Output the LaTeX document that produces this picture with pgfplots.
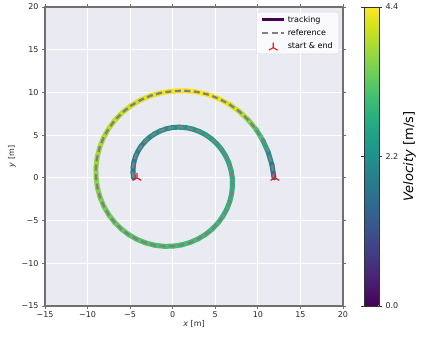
\documentclass[border=0pt]{standalone}
\usepackage{pgfplots}
\pgfplotsset{compat=1.18}
\usetikzlibrary{calc}
\usepackage{fontspec}
\setmainfont{DejaVu Sans}
\definecolor{bgc}{HTML}{EAEAF2}
\definecolor{framec}{HTML}{707070}
\definecolor{vpurple}{HTML}{440154}
\definecolor{refgray}{HTML}{808080}
\definecolor{mkred}{HTML}{E8141E}

\pgfdeclareplotmark{triup}{%
  \pgfpathmoveto{\pgfqpoint{0pt}{0pt}}%
  \pgfpathlineto{\pgfqpoint{0pt}{\pgfplotmarksize}}%
  \pgfpathmoveto{\pgfqpoint{0pt}{0pt}}%
  \pgfpathlineto{\pgfqpoint{-0.866\pgfplotmarksize}{-0.5\pgfplotmarksize}}%
  \pgfpathmoveto{\pgfqpoint{0pt}{0pt}}%
  \pgfpathlineto{\pgfqpoint{0.866\pgfplotmarksize}{-0.5\pgfplotmarksize}}%
  \pgfusepathqstroke}

\pgfplotsset{
  longline/.style={legend image code/.code={\draw[##1] (0pt,0pt) -- (22pt,0pt);}},
  midmark/.style={legend image code/.code={\draw[##1] plot coordinates {(11pt,-1.5pt)};}},
}

% spiral path, x y and speed
\pgfplotstableread{
x y v
-4.600 0.000 1.60
-4.666 0.629 1.675
-4.653 1.247 1.75
-4.545 1.898 1.825
-4.359 2.517 1.90
-4.070 3.141 1.95
-3.712 3.712 2.00
-3.250 4.259 2.05
-2.733 4.734 2.10
-2.120 5.156 2.125
-1.471 5.490 2.15
-0.742 5.744 2.175
0.000 5.900 2.20
0.794 5.939 2.25
1.574 5.876 2.30
2.374 5.700 2.35
3.133 5.427 2.40
3.880 5.037 2.45
4.561 4.561 2.50
5.197 3.973 2.55
5.745 3.317 2.60
6.218 2.562 2.65
6.584 1.764 2.70
6.850 0.890 2.75
7.000 0.000 2.80
7.021 -0.935 2.825
6.922 -1.855 2.85
6.694 -2.785 2.875
6.351 -3.667 2.90
5.877 -4.524 2.925
5.303 -5.303 2.95
4.607 -6.022 2.975
3.833 -6.639 3.00
2.955 -7.164 3.025
2.027 -7.566 3.05
1.022 -7.850 3.075
0.000 -8.000 3.10
-1.066 -8.012 3.125
-2.114 -7.888 3.15
-3.168 -7.617 3.175
-4.167 -7.217 3.20
-5.132 -6.670 3.25
-6.010 -6.010 3.30
-6.816 -5.216 3.35
-7.506 -4.333 3.40
-8.088 -3.338 3.475
-8.532 -2.286 3.55
-8.841 -1.153 3.60
-9.000 0.000 3.65
-9.016 1.200 3.70
-8.879 2.379 3.75
-8.576 3.566 3.80
-8.126 4.692 3.85
-7.512 5.780 3.90
-6.770 6.770 3.95
-5.877 7.680 4.00
-4.883 8.458 4.05
-3.762 9.116 4.125
-2.577 9.619 4.20
-1.300 9.970 4.275
0.000 10.150 4.35
1.363 10.205 4.375
2.702 10.086 4.40
4.069 9.774 4.375
5.367 9.295 4.35
6.638 8.619 4.20
7.796 7.796 4.05
8.874 6.785 3.725
9.801 5.658 3.40
10.597 4.368 2.90
11.213 3.004 2.40
11.656 1.515 1.90
11.900 0.000 1.40
}\spiral

\begin{document}
\begin{tikzpicture}
\begin{axis}[name=ax,
  width=298pt, height=299pt, scale only axis,
  xmin=-15, xmax=20, ymin=-15, ymax=20,
  xtick={-15,-10,...,20}, ytick={-15,-10,...,20},
  xticklabels={−15,−10,−5,0,5,10,15,20},
  yticklabels={−15,−10,−5,0,5,10,15,20},
  axis background/.style={fill=bgc},
  grid=major, grid style={white, line width=1pt},
  axis line style={framec, line width=1.1pt},
  tick align=outside, major tick length=3pt,
  tick style={framec, line width=0.8pt},
  every tick label/.append style={font=\fontsize{8}{10}\selectfont, text=black!85},
  xticklabel style={yshift=1pt},
  xlabel={\textit{x} [m]}, ylabel={\textit{y} [m]},
  label style={font=\fontsize{8}{10}\selectfont, text=black!85},
  xlabel style={yshift=4pt}, ylabel style={yshift=-1pt},
  colormap/viridis, point meta min=0, point meta max=4.4,
  colorbar,
  colorbar style={width=15pt, at={(parent axis.north east)}, anchor=north west, xshift=12.5pt,
    ytick={0,2.2,4.4}, yticklabels={0.0,2.2,4.4},
    yticklabel style={font=\fontsize{8}{10}\selectfont, text=black!85},
    ylabel={\textit{Velocity} [m/s]},
    ylabel style={font=\fontsize{13}{15}\selectfont, text=black, yshift=2pt},
    axis line style={black!80, line width=0.6pt},
    tick align=outside, major tick length=3pt, tick style={black!80}},
  legend cell align=left,
  legend style={at={(1,1)}, anchor=north east, xshift=-4pt, yshift=-5pt,
    fill=white, fill opacity=0.8, text opacity=1, draw=black!15, rounded corners=2pt,
    font=\fontsize{8}{10}\selectfont, row sep=1.5pt, inner xsep=4pt, inner ysep=2pt},
]
\addlegendimage{vpurple, line width=3pt, longline}
\addlegendentry{tracking}
\addlegendimage{refgray, line width=2.5pt, dash pattern=on 6pt off 3.5pt, longline}
\addlegendentry{reference}
\addlegendimage{only marks, mark=triup, mark size=5pt, mkred, line width=1.1pt, midmark}
\addlegendentry{start \& end}

\addplot[mesh, line width=5pt, line cap=round, line join=round, point meta=explicit, forget plot]
  table[x=x, y=y, meta=v] {\spiral};
\addplot[refgray, line width=2.3pt, dash pattern=on 6pt off 3.5pt, forget plot]
  table[x=x, y=y] {\spiral};
\addplot[only marks, mark=triup, mark size=5pt, mkred, line width=1.2pt, forget plot]
  coordinates {(-4.2,0) (12,0)};
\end{axis}
\pgfresetboundingbox
\useasboundingbox ($(ax.south west)+(-45pt,-34pt)$) rectangle ($(ax.north east)+(80pt,7pt)$);
\end{tikzpicture}
\end{document}
